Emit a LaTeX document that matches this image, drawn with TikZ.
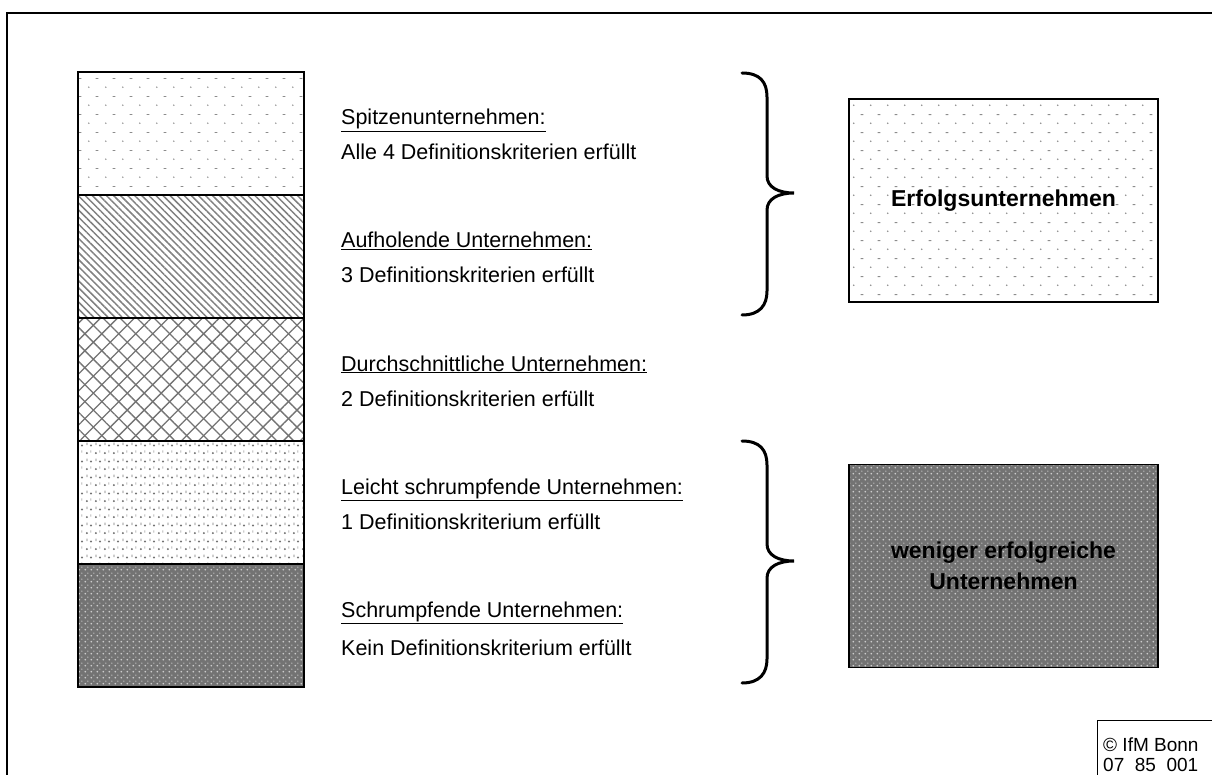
\documentclass[tikz,border=0pt]{standalone}
\usepackage{fontspec}
\setmainfont{Liberation Sans}
\usetikzlibrary{patterns,patterns.meta}

\tikzdeclarepattern{
  name=sparsedots, type=uncolored,
  bounding box={(0pt,0pt) and (17pt,18pt)},
  tile size={(17pt,18pt)},
  code={
    \fill (4pt,4pt) circle (0.9pt);
    \fill (11.2pt,12.6pt) rectangle (14pt,13.5pt);
  }
}
\tikzdeclarepattern{
  name=densedots, type=uncolored,
  bounding box={(0pt,0pt) and (8.5pt,16pt)},
  tile size={(8.5pt,16pt)},
  code={
    \fill (2pt,2pt) circle (1.2pt);
    \fill (6.25pt,10pt) circle (1.2pt);
    \fill (5.9pt,2.5pt) rectangle (6.6pt,5pt);
    \fill (1.7pt,10.5pt) rectangle (2.4pt,13pt);
  }
}
\tikzdeclarepattern{
  name=lightgrid, type=uncolored,
  bounding box={(0pt,0pt) and (6pt,6pt)},
  tile size={(6pt,6pt)},
  code={
    \fill (1.5pt,1.5pt) circle (1.1pt);
    \fill (4.5pt,4.5pt) circle (0.8pt);
  }
}

\tikzset{
  band/.style={minimum width=226pt, minimum height=123pt, inner sep=0pt, outer sep=0pt},
  rbox/.style={minimum width=309pt, minimum height=203pt, inner sep=0pt, outer sep=0pt},
  pdots/.style={pattern=sparsedots, pattern color=black!45},
  pdiag/.style={pattern={Lines[angle=-45,distance=5pt,line width=1.5pt]}, pattern color=black!50},
  pcross/.style={pattern={Lines[angle=45,distance=12pt,line width=1.3pt]}, pattern color=black!55,
     postaction={pattern={Lines[angle=-45,distance=12pt,line width=1.3pt]}, pattern color=black!55}},
  pdense/.style={pattern=densedots, pattern color=black!55},
  pdark/.style={fill=black!55, postaction={pattern=lightgrid, pattern color=white!80!black}},
  lbl/.style={anchor=base west, inner sep=0pt, font=\fontsize{21.5}{25}\selectfont},
  big/.style={align=center, font=\fontsize{23}{31}\selectfont\bfseries},
  brace/.style={line width=3pt, line cap=round},
  small/.style={anchor=base west, inner sep=0pt, font=\fontsize{19}{22}\selectfont}
}

\begin{document}
\begin{tikzpicture}[x=1pt,y=-1pt]
\useasboundingbox (0,0) rectangle (1212,775);
% outer frame
\draw[line width=2.5pt] (7,790) -- (7,13) -- (1225,13);

% stack
\node[band,pdots]  (b1) at (191,133.5) {};
\node[band,pdiag]  (b2) at (191,256.5) {};
\node[band,pcross] (b3) at (191,379.5) {};
\node[band,pdense] (b4) at (191,502.5) {};
\node[band,pdark]  (b5) at (191,625.5) {};
\draw[line width=1.6pt] (b1.north west) rectangle (b5.south east);
\draw[line width=1.6pt] (b1.south west) -- (b1.south east)
  (b2.south west) -- (b2.south east)
  (b3.south west) -- (b3.south east)
  (b4.south west) -- (b4.south east);

% labels
\node[lbl] (h1) at (341,125) {\underline{Spitzenunternehmen:}};
\node[lbl] (t1) at (341,160) {Alle 4 Definitionskriterien erfüllt};
\node[lbl] (h2) at (341,248) {\underline{Aufholende Unternehmen:}};
\node[lbl] (t2) at (341,283) {3 Definitionskriterien erfüllt};
\node[lbl] (h3) at (341,371) {\underline{Durchschnittliche Unternehmen:}};
\node[lbl] (t3) at (341,406) {2 Definitionskriterien erfüllt};
\node[lbl] (h4) at (341,494) {\underline{Leicht schrumpfende Unternehmen:}};
\node[lbl] (t4) at (341,529) {1 Definitionskriterium erfüllt};
\node[lbl] (h5) at (341,617) {\underline{Schrumpfende Unternehmen:}};
\node[lbl] (t5) at (341,655) {Kein Definitionskriterium erfüllt};

% braces
\draw[brace] (742,73) .. controls (760,73) and (767,82) .. (767,97) -- (767,176)
  .. controls (767,187) and (778,193) .. (794,193)
  .. controls (778,193) and (767,199) .. (767,210) -- (767,291)
  .. controls (767,305) and (760,315) .. (742,315);
\begin{scope}[shift={(0,368)}]
\draw[brace] (742,73) .. controls (760,73) and (767,82) .. (767,97) -- (767,176)
  .. controls (767,187) and (778,193) .. (794,193)
  .. controls (778,193) and (767,199) .. (767,210) -- (767,291)
  .. controls (767,305) and (760,315) .. (742,315);
\end{scope}

% right boxes
\node[rbox,pdots] (r1) at (1003.5,200.5) {};
\draw[line width=1.2pt] (r1.north west) rectangle (r1.south east);
\node[big] (r1t) at (r1.center) {Erfolgsunternehmen};
\node[rbox,pdark] (r2) at (1003.5,566) {};
\draw[line width=1.2pt] (r2.north west) rectangle (r2.south east);
\node[big] (r2t) at (r2.center) {weniger erfolgreiche\\Unternehmen};

% copyright box
\draw[line width=1pt] (1097,790) -- (1097,720) -- (1225,720);
\node[small] (c1) at (1103,751) {© IfM Bonn};
\node[small] (c2) at (1103,771) {07~~85~~001};
\end{tikzpicture}
\end{document}
